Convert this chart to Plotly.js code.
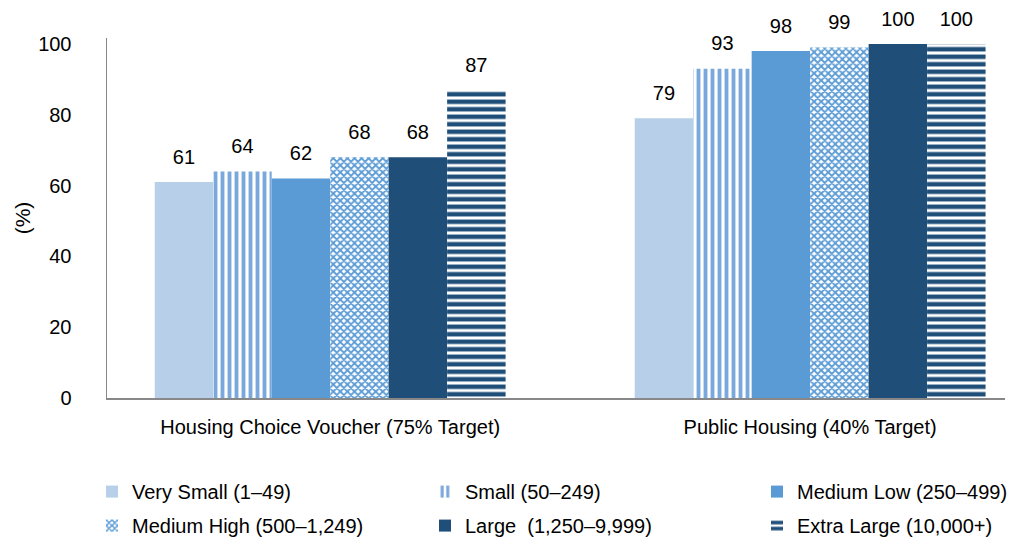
<!DOCTYPE html>
<html>
<head>
<meta charset="utf-8">
<script src="https://cdn.plot.ly/plotly-3.0.1.min.js"></script>
<style>
    body { margin: 0; background: white; }
    #chart { width: 1013px; height: 542px; }
</style>
</head>
<body>
<div id="chart"></div>
<script>
// program categories on the x axis
let programs = ["Housing Choice Voucher (75% Target)", "Public Housing (40% Target)"];

// agency size groups (legend names)
let sizeNames = [
    "Very Small (1\u201349)",
    "Small (50\u2013249)",
    "Medium Low (250\u2013499)",
    "Medium High (500\u20131,249)",
    "Large  (1,250\u20139,999)",
    "Extra Large (10,000+)"
];

// percent values per size group, [voucher, public housing]
let verySmall = [61, 79];
let small = [64, 93];
let mediumLow = [62, 98];
let mediumHigh = [68, 99];
let large = [68, 100];
let extraLarge = [87, 100];

let allValues = [verySmall, small, mediumLow, mediumHigh, large, extraLarge];

// look of each series: solid fill or pattern
let styles = [
    {color: "#b8cfe9"},
    {color: "#7aa8dc", pattern: {shape: "|", size: 7, solidity: 0.55}},
    {color: "#5b9bd5"},
    {color: "#5b9bd5", pattern: {shape: "x", size: 5, solidity: 0.6}},
    {color: "#1f4e79"},
    {color: "#1f4e79", pattern: {shape: "-", size: 7.5, solidity: 0.6}}
];

// legend column for each series (3 columns, 2 rows like the original)
let legendIds = ["legend", "legend2", "legend3", "legend", "legend2", "legend3"];

let font = "Liberation Sans, Arial, sans-serif";

// the bars
let barTraces = allValues.map((vals, i) => {
    let marker = {color: styles[i].color, line: {width: 0}};
    if (styles[i].pattern) {
        marker.color = "white";
        marker.pattern = Object.assign({
            fgcolor: styles[i].color,
            bgcolor: "white",
            fillmode: "replace"
        }, styles[i].pattern);
    }
    return {
        type: "bar",
        name: sizeNames[i],
        x: programs,
        y: vals,
        marker: marker,
        legend: legendIds[i],
        legendgroup: "g" + i,
        hoverinfo: "skip"
    };
});

// value labels, as grouped scatter text so they sit a bit above the bars
let labelTraces = allValues.map((vals, i) => ({
    type: "scatter",
    mode: "markers+text",
    x: programs,
    y: vals,
    text: vals.map(v => String(v)),
    textposition: "top center",
    textfont: {family: font, size: 20, color: "#000"},
    marker: {size: 20, opacity: 0},
    cliponaxis: false,
    showlegend: false,
    hoverinfo: "skip"
}));

let legendBase = {
    orientation: "v",
    xref: "paper",
    yref: "container",
    y: 0.129,
    yanchor: "top",
    xanchor: "left",
    bgcolor: "rgba(0,0,0,0)",
    tracegroupgap: 5,
    font: {family: font, size: 20, color: "#000"}
};

let layout = {
    width: 1013,
    height: 542,
    margin: {l: 107, r: 8, t: 38, b: 144},
    paper_bgcolor: "white",
    plot_bgcolor: "white",
    font: {family: font, size: 20, color: "#000"},
    barmode: "group",
    bargap: 0.269,
    bargroupgap: 0,
    scattermode: "group",
    scattergap: 0.269,
    xaxis: {
        type: "category",
        range: [-0.465, 1.406],
        showline: true,
        linecolor: "#888",
        linewidth: 1.5,
        ticks: "",
        showgrid: false,
        zeroline: false,
        ticklabelstandoff: 10,
        tickfont: {size: 20}
    },
    yaxis: {
        range: [0, 101.7],
        tickvals: [0, 20, 40, 60, 80, 100],
        showline: true,
        linecolor: "#888",
        linewidth: 1.5,
        ticks: "",
        showgrid: false,
        zeroline: false,
        ticklabelstandoff: 30,
        tickfont: {size: 20},
        title: {text: "(%)", font: {size: 21}, standoff: 2}
    },
    legend: Object.assign({x: -0.0167}, legendBase),
    legend2: Object.assign({x: 0.3541}, legendBase),
    legend3: Object.assign({x: 0.7261}, legendBase)
};

Plotly.newPlot("chart", barTraces.concat(labelTraces), layout, {staticPlot: true});
</script>
</body>
</html>
